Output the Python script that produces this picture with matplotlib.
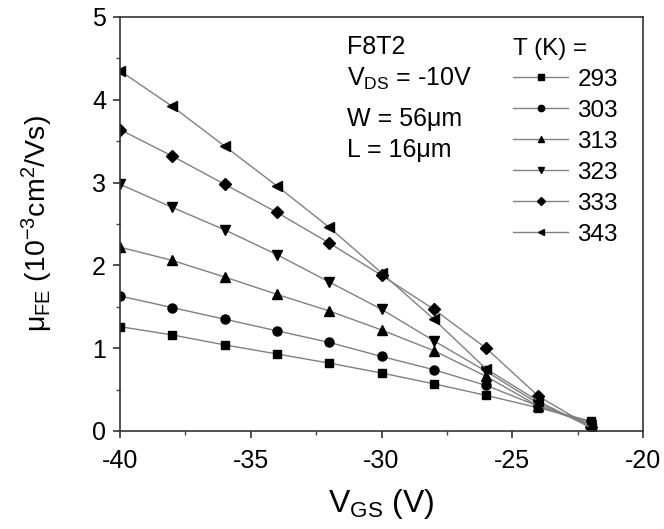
import matplotlib
matplotlib.use("Agg")
import matplotlib.pyplot as plt
from matplotlib.ticker import MultipleLocator

plt.rcParams['font.family'] = ['Liberation Sans', 'DejaVu Sans']
plt.rcParams['mathtext.default'] = 'regular'
plt.rcParams['axes.unicode_minus'] = False

vgs = [-40, -38, -36, -34, -32, -30, -28, -26, -24, -22]
temps = ['293', '303', '313', '323', '333', '343']
mu_293 = [1.26, 1.16, 1.04, 0.93, 0.82, 0.70, 0.57, 0.43, 0.28, 0.12]
mu_303 = [1.63, 1.49, 1.35, 1.21, 1.07, 0.90, 0.74, 0.55, 0.30, 0.10]
mu_313 = [2.22, 2.06, 1.86, 1.65, 1.45, 1.22, 0.97, 0.66, 0.30, 0.08]
mu_323 = [2.98, 2.70, 2.43, 2.13, 1.80, 1.47, 1.09, 0.72, 0.33, 0.07]
mu_333 = [3.64, 3.32, 2.98, 2.64, 2.27, 1.88, 1.47, 1.00, 0.42, 0.05]
mu_343 = [4.35, 3.92, 3.44, 2.96, 2.46, 1.91, 1.35, 0.75, 0.36, 0.04]
series = [mu_293, mu_303, mu_313, mu_323, mu_333, mu_343]
markers = ['s', 'o', '^', 'v', 'D', '<']
msizes = [6, 6.5, 7, 7, 6, 7]

fig = plt.figure(figsize=(6.64, 5.29), dpi=100)
ax = fig.add_axes([0.1807, 0.1853, 0.7877, 0.7826])

for t, y, m, ms in zip(temps, series, markers, msizes):
    ax.plot(vgs, y, color='#808080', lw=1.0, marker=m, ms=ms,
            mfc='black', mec='black', label=t)

ax.set_xlim(-40, -20)
ax.set_ylim(0, 5)
ax.xaxis.set_major_locator(MultipleLocator(5))
ax.xaxis.set_minor_locator(MultipleLocator(2.5))
ax.yaxis.set_major_locator(MultipleLocator(1))
ax.yaxis.set_minor_locator(MultipleLocator(0.5))
ax.tick_params(which='major', direction='out', length=5, width=1.1,
               labelsize=18, colors='#222222', pad=5)
ax.tick_params(axis='x', which='major', pad=8)
ax.tick_params(which='minor', direction='out', length=3, width=1.0, colors='#444444')
ax.tick_params(labelcolor='black')
for s in ax.spines.values():
    s.set_linewidth(1.2)
    s.set_color('#333333')

ax.set_xlabel('V$_{GS}$ (V)', fontsize=23, labelpad=10)
ax.set_ylabel('μ$_{FE}$ (10$^{-3}$cm$^{2}$/Vs)', fontsize=20.5)
ax.yaxis.set_label_coords(-0.125, 0.5)

fs = 18
ax.text(0.434, 0.928, 'F8T2', transform=ax.transAxes, fontsize=fs, va='center')
ax.text(0.434, 0.850, 'V$_{DS}$ = -10V', transform=ax.transAxes, fontsize=fs, va='center')
ax.text(0.434, 0.754, 'W = 56μm', transform=ax.transAxes, fontsize=fs, va='center')
ax.text(0.434, 0.679, 'L = 16μm', transform=ax.transAxes, fontsize=fs, va='center')

fl = 17.5
leg = ax.legend(title='T (K) =', loc='upper left', bbox_to_anchor=(0.732, 0.973),
                frameon=False, fontsize=fl, title_fontsize=fl,
                handlelength=2.3, handletextpad=0.37, labelspacing=0.37,
                borderaxespad=0.0, markerscale=0.7)
leg._legend_box.align = 'left'

fig.savefig('out.png', dpi=100)
